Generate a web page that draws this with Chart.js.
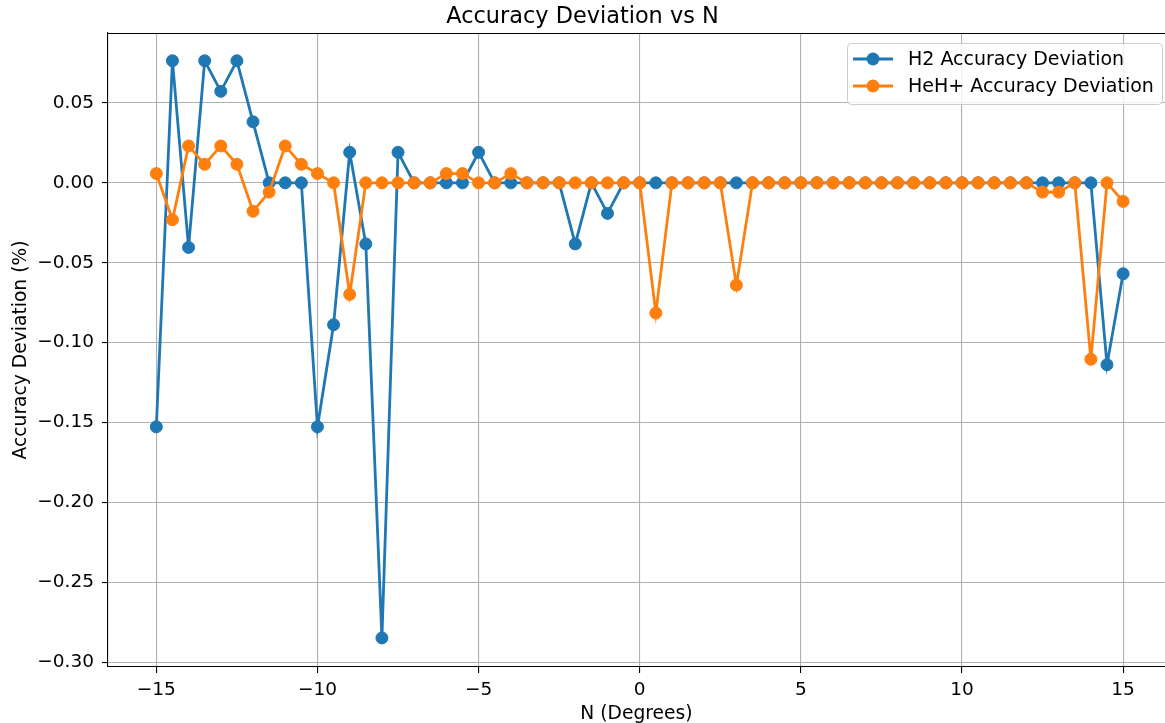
<!DOCTYPE html>
<html>
<head>
<meta charset="utf-8">
<script src="https://cdn.jsdelivr.net/npm/chart.js@4/dist/chart.umd.min.js"></script>
<style>
    html, body { margin: 0; padding: 0; background: #fff; }
    #wrap { width: 1165px; height: 723px; }
</style>
</head>
<body>
<div id="wrap"><canvas id="deviation-chart"></canvas></div>
<script>
// угол N, градусы
const nDegrees = [
    -15, -14.5, -14, -13.5, -13, -12.5, -12, -11.5, -11, -10.5,
    -10, -9.5, -9, -8.5, -8, -7.5, -7, -6.5, -6, -5.5,
    -5, -4.5, -4, -3.5, -3, -2.5, -2, -1.5, -1, -0.5,
    0, 0.5, 1, 1.5, 2, 2.5, 3, 3.5, 4, 4.5,
    5, 5.5, 6, 6.5, 7, 7.5, 8, 8.5, 9, 9.5,
    10, 10.5, 11, 11.5, 12, 12.5, 13, 13.5, 14, 14.5,
    15
];

// отклонение точности H2, %
const h2Deviation = [
    -0.1527, 0.0764, -0.0404, 0.0764, 0.0573, 0.0764, 0.0382, 0, 0, 0,
    -0.1527, -0.0888, 0.0191, -0.0382, -0.2848, 0.0191, 0, 0, 0, 0,
    0.0191, 0, 0, 0, 0, 0, -0.0382, 0, -0.0191, 0,
    0, 0, 0, 0, 0, 0, 0, 0, 0, 0,
    0, 0, 0, 0, 0, 0, 0, 0, 0, 0,
    0, 0, 0, 0, 0, 0, 0, 0, 0, -0.1138,
    -0.0569
];

// отклонение точности HeH+, %
const hehDeviation = [
    0.0058, -0.0231, 0.0231, 0.0116, 0.0231, 0.0116, -0.0178, -0.0058, 0.0231, 0.0116,
    0.0058, 0, -0.0698, 0, 0, 0, 0, 0, 0.0058, 0.0058,
    0, 0, 0.0058, 0, 0, 0, 0, 0, 0, 0,
    0, -0.0815, 0, 0, 0, 0, -0.0640, 0, 0, 0,
    0, 0, 0, 0, 0, 0, 0, 0, 0, 0,
    0, 0, 0, 0, 0, -0.0058, -0.0058, 0, -0.1104, 0,
    -0.0116
];

const xTicks = [-15, -10, -5, 0, 5, 10, 15];
const yTicks = [-0.30, -0.25, -0.20, -0.15, -0.10, -0.05, 0.00, 0.05];

const seriesNames = ['H2 Accuracy Deviation', 'HeH+ Accuracy Deviation'];
const seriesColors = ['#1f77b4', '#ff7f0e'];

const FONT = "'DejaVu Sans', sans-serif";

// минус как в matplotlib
function withMinus(text) {
    return text.replace('-', '\u2212');
}

function makeDataset(i, values) {
    return {
        label: seriesNames[i],
        data: nDegrees.map((n, k) => ({x: n, y: values[k]})),
        borderColor: seriesColors[i],
        backgroundColor: seriesColors[i],
        pointBackgroundColor: seriesColors[i],
        pointBorderColor: seriesColors[i],
        borderWidth: 2.8,
        pointRadius: 6,
        pointHoverRadius: 6,
        pointBorderWidth: 1,
        tension: 0,
        order: 1 - i
    };
}

// рамка сверху + легенда внутри области графика
const framePlugin = {
    id: 'frameAndLegend',
    afterDraw(chart) {
        const ctx = chart.ctx;
        const area = chart.chartArea;
        ctx.save();
        ctx.strokeStyle = '#000';
        ctx.lineWidth = 1.1;
        ctx.beginPath();
        ctx.moveTo(area.left, area.top + 0.5);
        ctx.lineTo(area.right, area.top + 0.5);
        ctx.stroke();

        const boxW = 315, boxH = 61;
        const boxX = 847;
        const boxY = area.top + 10;
        ctx.fillStyle = 'rgba(255,255,255,0.8)';
        ctx.strokeStyle = '#cccccc';
        ctx.lineWidth = 1;
        ctx.beginPath();
        ctx.roundRect(boxX + 0.5, boxY + 0.5, boxW, boxH, 4);
        ctx.fill();
        ctx.stroke();

        ctx.font = '19px ' + FONT;
        ctx.textBaseline = 'middle';
        ctx.textAlign = 'left';
        chart.data.datasets.forEach((ds, i) => {
            const y = boxY + 16 + i * 27;
            ctx.strokeStyle = ds.borderColor;
            ctx.lineWidth = 2.8;
            ctx.beginPath();
            ctx.moveTo(boxX + 6, y);
            ctx.lineTo(boxX + 46, y);
            ctx.stroke();
            ctx.fillStyle = ds.borderColor;
            ctx.beginPath();
            ctx.arc(boxX + 26, y, 6.5, 0, Math.PI * 2);
            ctx.fill();
            ctx.fillStyle = '#000';
            ctx.fillText(ds.label, boxX + 61, y + 1);
        });
        ctx.restore();
    }
};

new Chart(document.getElementById('deviation-chart'), {
    type: 'line',
    data: {
        datasets: [
            makeDataset(0, h2Deviation),
            makeDataset(1, hehDeviation)
        ]
    },
    options: {
        responsive: true,
        maintainAspectRatio: false,
        animation: false,
        layout: {padding: 0, autoPadding: false},
        plugins: {
            legend: {display: false},
            tooltip: {enabled: false},
            title: {
                display: true,
                text: 'Accuracy Deviation vs N',
                color: '#000',
                font: {family: FONT, size: 22.4, weight: 'normal', lineHeight: 1.2},
                padding: {top: 4, bottom: 2.1}
            }
        },
        scales: {
            x: {
                type: 'linear',
                min: -16.5,
                max: 16.3,
                afterBuildTicks: (scale) => {
                    scale.ticks = xTicks.map(v => ({value: v}));
                },
                afterFit: (scale) => {
                    scale.height = 56;
                },
                ticks: {
                    color: '#000',
                    font: {family: FONT, size: 18.5},
                    padding: 6,
                    maxRotation: 0,
                    autoSkip: false,
                    callback: (v) => withMinus(String(v))
                },
                grid: {
                    color: '#b0b0b0',
                    lineWidth: 1.1,
                    tickColor: '#000',
                    tickLength: 6,
                    tickWidth: 1.1
                },
                border: {color: '#000', width: 1.1},
                title: {
                    display: true,
                    text: 'N (Degrees)',
                    color: '#000',
                    font: {family: FONT, size: 18.7, lineHeight: 1},
                    padding: {top: 0, bottom: 0}
                }
            },
            y: {
                min: -0.303,
                max: 0.0938,
                afterBuildTicks: (scale) => {
                    scale.ticks = yTicks.map(v => ({value: v}));
                },
                afterFit: (scale) => {
                    scale.width = 108;
                },
                ticks: {
                    color: '#000',
                    font: {family: FONT, size: 18.5},
                    padding: 8,
                    autoSkip: false,
                    callback: (v) => withMinus(Number(v).toFixed(2))
                },
                grid: {
                    color: '#b0b0b0',
                    lineWidth: 1.1,
                    tickColor: '#000',
                    tickLength: 6,
                    tickWidth: 1.1
                },
                border: {color: '#000', width: 1.1},
                title: {
                    display: true,
                    text: 'Accuracy Deviation (%)',
                    color: '#000',
                    font: {family: FONT, size: 18.7, lineHeight: 1},
                    padding: {top: 12, bottom: 0}
                }
            }
        }
    },
    plugins: [framePlugin]
});
</script>
</body>
</html>
